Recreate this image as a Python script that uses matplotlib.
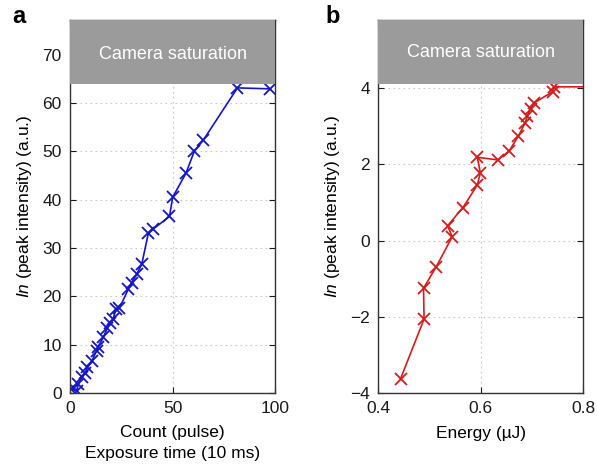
import numpy as np
import matplotlib
matplotlib.use("Agg")
import matplotlib.pyplot as plt
from matplotlib.patches import Rectangle

plt.rcParams["font.family"] = ["Liberation Sans", "DejaVu Sans"]
plt.rcParams["mathtext.fontset"] = "custom"
plt.rcParams["mathtext.it"] = "Liberation Sans:italic"
plt.rcParams["mathtext.rm"] = "Liberation Sans"

# panel a: count / exposure vs peak intensity
count = [0.8, 3.3, 4.1, 5.7, 7.5, 8.5, 10.6, 13.0, 13.8, 16.3, 18.2, 19.5, 21.1,
         22.4, 24.1, 28.4, 30.1, 32.5, 35.0, 38.2, 40.6, 48.5, 50.1, 56.6, 60.6,
         65.0, 81.6, 97.6]
peak_a = [0.8, 0.4, 1.8, 3.2, 4.2, 5.3, 6.5, 8.7, 9.6, 11.5, 13.4, 14.5, 15.3,
          17.3, 17.5, 21.4, 22.8, 24.5, 26.6, 33.0, 33.9, 36.5, 40.5, 45.5, 50.0,
          52.3, 63.1, 62.9]

# panel b: energy vs peak intensity
energy = [0.443, 0.489, 0.488, 0.513, 0.544, 0.535, 0.565, 0.593, 0.599, 0.593,
          0.633, 0.655, 0.673, 0.686, 0.691, 0.697, 0.704, 0.740, 0.743, 0.82]
peak_b = [-3.63, -2.06, -1.25, -0.68, 0.10, 0.39, 0.87, 1.46, 1.78, 2.19,
          2.12, 2.35, 2.74, 3.08, 3.27, 3.47, 3.62, 3.91, 4.04, 4.04]

sat_label = "Camera saturation"
ylab = r"$\it{In}$ (peak intensity) (a.u.)"

fig = plt.figure(figsize=(5.97, 4.70), dpi=100)
ax1 = fig.add_axes([0.117, 0.164, 0.344, 0.793])
ax2 = fig.add_axes([0.634, 0.164, 0.343, 0.793])


def style(ax):
    ax.tick_params(direction="in", top=True, right=True, length=4,
                   labelsize=12.5, colors="#1a1a1a", pad=6)
    ax.grid(True, linestyle=(0, (1.5, 3)), color="#c8c8c8", linewidth=0.8)
    for s in ax.spines.values():
        s.set_color("#333333")
        s.set_linewidth(1.0)


# --- a ---
ax1.plot(count, peak_a, color="#1414c8", marker="x", markersize=9,
         markeredgewidth=1.3, linewidth=1.2)
ax1.set_xlim(0, 100)
ax1.set_ylim(0, 77.1)
ax1.set_xticks([0, 50, 100])
ax1.set_yticks([0, 10, 20, 30, 40, 50, 60, 70])
ax1.add_patch(Rectangle((0, 63.9), 100, 13.2, facecolor="#9b9b9b",
                        edgecolor="none", zorder=3))
ax1.text(50, 70.0, sat_label, color="white", fontsize=13, ha="center",
         va="center", zorder=4)
style(ax1)
ax1.set_xlabel("Count (pulse)\nExposure time (10 ms)", fontsize=12.5,
               linespacing=1.5, labelpad=6)
ax1.set_ylabel(ylab, fontsize=12.5, labelpad=6)
fig.text(0.02, 0.952, "a", fontsize=17, fontweight="bold")

# --- b ---
ax2.plot(energy, peak_b, color="#d41c1c", marker="x", markersize=9,
         markeredgewidth=1.3, linewidth=1.2)
ax2.set_xlim(0.4, 0.8)
ax2.set_ylim(-4, 5.79)
ax2.set_xticks([0.4, 0.6, 0.8])
ax2.set_yticks([-4, -2, 0, 2, 4])
ax2.set_yticklabels(["\u22124", "\u22122", "0", "2", "4"])
ax2.add_patch(Rectangle((0.4, 4.11), 0.4, 1.7, facecolor="#9b9b9b",
                        edgecolor="none", zorder=3))
ax2.text(0.6, 4.95, sat_label, color="white", fontsize=13, ha="center",
         va="center", zorder=4)
style(ax2)
ax2.set_xlabel("Energy (\u00b5J)", fontsize=12.5, labelpad=7)
ax2.set_ylabel(ylab, fontsize=12.5, labelpad=6)
fig.text(0.545, 0.952, "b", fontsize=17, fontweight="bold")

fig.savefig("out.png", dpi=100)
